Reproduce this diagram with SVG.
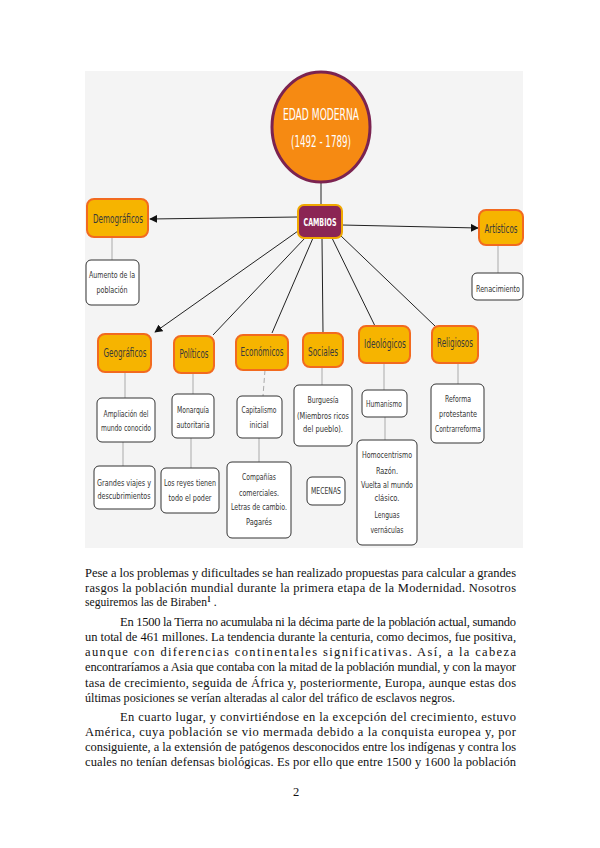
<svg xmlns="http://www.w3.org/2000/svg" width="600" height="848" viewBox="0 0 600 848">
<defs>
<style>
.bg{fill:#f4f4f4}
.hdr{fill:#f6b400;stroke:#f26a1f;stroke-width:2}
.sub{fill:#ffffff;stroke:#333;stroke-width:1}
.ht{font-family:"DejaVu Sans Condensed","Liberation Sans",sans-serif;font-size:12px;fill:#3a3a3a;text-anchor:middle}
.st{font-family:"DejaVu Sans Condensed","Liberation Sans",sans-serif;font-size:9.5px;fill:#333;text-anchor:middle}
.con{stroke:#222;stroke-width:1;fill:none}
.vl{stroke:#aaa;stroke-width:1;fill:none}
.body{font-family:"Liberation Serif","Times New Roman",serif;font-size:12.5px;fill:#111}
</style>
<marker id="ah" viewBox="0 0 10 10" refX="9" refY="5" markerWidth="8" markerHeight="8" markerUnits="userSpaceOnUse" orient="auto">
<path d="M0,0 L10,5 L0,10 z" fill="#111"/>
</marker>
</defs>
<rect x="0" y="0" width="600" height="848" fill="#ffffff"/>
<rect class="bg" x="85" y="71" width="438" height="477"/>

<g id="connectors">
<line class="con" x1="321" y1="182" x2="321" y2="205"/>
<line class="con" x1="298" y1="217" x2="150" y2="219" marker-end="url(#ah)"/>
<line class="con" x1="342" y1="225" x2="478" y2="228" marker-end="url(#ah)"/>
<line class="con" x1="298" y1="231" x2="155" y2="332" marker-end="url(#ah)"/>
<line class="con" x1="305" y1="238" x2="213" y2="335"/>
<line class="con" x1="313" y1="238" x2="272" y2="333"/>
<line class="con" x1="322" y1="238" x2="323" y2="333"/>
<line class="con" x1="332" y1="238" x2="375" y2="326"/>
<line class="con" x1="340" y1="235" x2="435" y2="326"/>
<line class="vl" x1="112" y1="237" x2="112" y2="260"/>
<line class="vl" x1="498" y1="245" x2="498" y2="273"/>
<line class="vl" x1="125" y1="372" x2="125" y2="398"/>
<line class="vl" x1="193" y1="373" x2="193" y2="394"/>
<line class="vl" x1="265" y1="370" x2="263" y2="396" stroke-dasharray="5,3"/>
<line class="vl" x1="322" y1="367" x2="322" y2="385"/>
<line class="vl" x1="384" y1="363" x2="384" y2="390"/>
<line class="vl" x1="458" y1="363" x2="458" y2="384"/>
<line class="vl" x1="123" y1="442" x2="123" y2="466"/>
<line class="vl" x1="191" y1="438" x2="191" y2="468"/>
<line class="vl" x1="259" y1="438" x2="259" y2="462"/>
<line class="vl" x1="385" y1="417" x2="385" y2="440"/>
</g>

<g id="edad">
<ellipse cx="321" cy="127" rx="49" ry="55" fill="#f68a12" stroke="#7b2350" stroke-width="3"/>
<text x="321" y="120" font-family="DejaVu Sans Condensed,Liberation Sans,sans-serif" font-size="15" fill="#ffffff" text-anchor="middle" textLength="76" lengthAdjust="spacingAndGlyphs">EDAD MODERNA</text>
<text x="321" y="147" font-family="DejaVu Sans Condensed,Liberation Sans,sans-serif" font-size="15" fill="#ffffff" text-anchor="middle" textLength="60" lengthAdjust="spacingAndGlyphs">(1492 - 1789)</text>
</g>

<g id="cambios">
<rect x="298" y="205" width="44" height="33" rx="6" fill="#8b2554" stroke="#f0a800" stroke-width="2"/>
<text x="320" y="226" font-family="DejaVu Sans Condensed,Liberation Sans,sans-serif" font-size="10" font-weight="bold" fill="#ffffff" text-anchor="middle" textLength="33" lengthAdjust="spacingAndGlyphs">CAMBIOS</text>
</g>

<g id="demograficos">
<rect class="hdr" x="87" y="199" width="61" height="38" rx="7"/>
<text class="ht" x="118" y="223" textLength="50" lengthAdjust="spacingAndGlyphs">Demográficos</text>
</g>
<g id="artisticos">
<rect class="hdr" x="479" y="210" width="44" height="35" rx="7"/>
<text class="ht" x="501" y="233" textLength="33" lengthAdjust="spacingAndGlyphs">Artísticos</text>
</g>
<g id="aumento">
<rect class="sub" x="86" y="260" width="53" height="45" rx="5"/>
<text class="st" x="112" y="278" textLength="46" lengthAdjust="spacingAndGlyphs">Aumento de la</text>
<text class="st" x="112" y="293" textLength="31" lengthAdjust="spacingAndGlyphs">población</text>
</g>
<g id="renacimiento">
<rect class="sub" x="472" y="273" width="51" height="27" rx="5"/>
<text class="st" x="498" y="292" textLength="44" lengthAdjust="spacingAndGlyphs">Renacimiento</text>
</g>

<g id="geograficos">
<rect class="hdr" x="98" y="334" width="53" height="38" rx="7"/>
<text class="ht" x="125" y="357" textLength="43" lengthAdjust="spacingAndGlyphs">Geográficos</text>
</g>
<g id="politicos">
<rect class="hdr" x="174" y="336" width="40" height="37" rx="7"/>
<text class="ht" x="194" y="358" textLength="29" lengthAdjust="spacingAndGlyphs">Políticos</text>
</g>
<g id="economicos">
<rect class="hdr" x="236" y="335" width="52" height="35" rx="7"/>
<text class="ht" x="262" y="356" textLength="43" lengthAdjust="spacingAndGlyphs">Económicos</text>
</g>
<g id="sociales">
<rect class="hdr" x="303" y="333" width="40" height="34" rx="7"/>
<text class="ht" x="323" y="356" textLength="30" lengthAdjust="spacingAndGlyphs">Sociales</text>
</g>
<g id="ideologicos">
<rect class="hdr" x="359" y="326" width="51" height="37" rx="7"/>
<text class="ht" x="385" y="348" textLength="42" lengthAdjust="spacingAndGlyphs">Ideológicos</text>
</g>
<g id="religiosos">
<rect class="hdr" x="432" y="326" width="46" height="37" rx="7"/>
<text class="ht" x="455" y="347" textLength="36" lengthAdjust="spacingAndGlyphs">Religiosos</text>
</g>

<g id="ampliacion">
<rect class="sub" x="97" y="398" width="58" height="44" rx="5"/>
<text class="st" x="126" y="417" textLength="45" lengthAdjust="spacingAndGlyphs">Ampliación del</text>
<text class="st" x="126" y="431" textLength="50" lengthAdjust="spacingAndGlyphs">mundo conocido</text>
</g>
<g id="monarquia">
<rect class="sub" x="172" y="394" width="42" height="44" rx="5"/>
<text class="st" x="193" y="413" textLength="32" lengthAdjust="spacingAndGlyphs">Monarquía</text>
<text class="st" x="193" y="428" textLength="33" lengthAdjust="spacingAndGlyphs">autoritaria</text>
</g>
<g id="capitalismo">
<rect class="sub" x="237" y="396" width="45" height="42" rx="5"/>
<text class="st" x="259" y="413" textLength="35" lengthAdjust="spacingAndGlyphs">Capitalismo</text>
<text class="st" x="259" y="428" textLength="19" lengthAdjust="spacingAndGlyphs">inicial</text>
</g>
<g id="burguesia">
<rect class="sub" x="294" y="385" width="58" height="61" rx="5"/>
<text class="st" x="323" y="403" textLength="31" lengthAdjust="spacingAndGlyphs">Burguesía</text>
<text class="st" x="323" y="419" textLength="52" lengthAdjust="spacingAndGlyphs">(Miembros ricos</text>
<text class="st" x="323" y="432" textLength="40" lengthAdjust="spacingAndGlyphs">del pueblo).</text>
</g>
<g id="humanismo">
<rect class="sub" x="362" y="390" width="45" height="27" rx="5"/>
<text class="st" x="384" y="407" textLength="36" lengthAdjust="spacingAndGlyphs">Humanismo</text>
</g>
<g id="reforma">
<rect class="sub" x="431" y="384" width="53" height="59" rx="5"/>
<text class="st" x="458" y="402" textLength="26" lengthAdjust="spacingAndGlyphs">Reforma</text>
<text class="st" x="458" y="417" textLength="38" lengthAdjust="spacingAndGlyphs">protestante</text>
<text class="st" x="458" y="432" textLength="46" lengthAdjust="spacingAndGlyphs">Contrarreforma</text>
</g>

<g id="grandes">
<rect class="sub" x="94" y="466" width="61" height="43" rx="5"/>
<text class="st" x="124" y="486" textLength="54" lengthAdjust="spacingAndGlyphs">Grandes viajes y</text>
<text class="st" x="124" y="499" textLength="53" lengthAdjust="spacingAndGlyphs">descubrimientos</text>
</g>
<g id="reyes">
<rect class="sub" x="161" y="468" width="58" height="45" rx="5" stroke-width="1.5"/>
<text class="st" x="190" y="486" textLength="52" lengthAdjust="spacingAndGlyphs">Los reyes tienen</text>
<text class="st" x="190" y="501" textLength="43" lengthAdjust="spacingAndGlyphs">todo el poder</text>
</g>
<g id="companias">
<rect class="sub" x="227" y="462" width="64" height="76" rx="5"/>
<text class="st" x="259" y="480" textLength="34" lengthAdjust="spacingAndGlyphs">Compañías</text>
<text class="st" x="259" y="496" textLength="40" lengthAdjust="spacingAndGlyphs">comerciales.</text>
<text class="st" x="259" y="510" textLength="56" lengthAdjust="spacingAndGlyphs">Letras de cambio.</text>
<text class="st" x="259" y="525" textLength="26" lengthAdjust="spacingAndGlyphs">Pagarés</text>
</g>
<g id="mecenas">
<rect class="sub" x="307" y="477" width="38" height="28" rx="5"/>
<text class="st" x="326" y="494" textLength="30" lengthAdjust="spacingAndGlyphs">MECENAS</text>
</g>
<g id="homocentrismo">
<rect class="sub" x="357" y="440" width="60" height="105" rx="5"/>
<text class="st" x="387" y="458" textLength="50" lengthAdjust="spacingAndGlyphs">Homocentrismo</text>
<text class="st" x="387" y="474" textLength="22" lengthAdjust="spacingAndGlyphs">Razón.</text>
<text class="st" x="387" y="488" textLength="52" lengthAdjust="spacingAndGlyphs">Vuelta al mundo</text>
<text class="st" x="387" y="501" textLength="25" lengthAdjust="spacingAndGlyphs">clásico.</text>
<text class="st" x="387" y="518" textLength="25" lengthAdjust="spacingAndGlyphs">Lenguas</text>
<text class="st" x="387" y="533" textLength="33" lengthAdjust="spacingAndGlyphs">vernáculas</text>
</g>

<g id="texto">
<text class="body" x="85" y="577" textLength="431" lengthAdjust="spacing">Pese a los problemas y dificultades se han realizado propuestas para calcular a grandes</text>
<text class="body" x="85" y="592" textLength="431" lengthAdjust="spacing">rasgos la población mundial durante la primera etapa de la Modernidad. Nosotros</text>
<text class="body" x="85" y="606" style="font-size:11.6px">seguiremos las de Biraben<tspan dy="-4" style="font-size:7.5px;font-weight:bold">1</tspan><tspan dy="4"> .</tspan></text>
<text class="body" x="120" y="626" textLength="396" lengthAdjust="spacing">En 1500 la Tierra no acumulaba ni la décima parte de la población actual, sumando</text>
<text class="body" x="85" y="641" textLength="431" lengthAdjust="spacing">un total de 461 millones. La tendencia durante la centuria, como decimos, fue positiva,</text>
<text class="body" x="85" y="656" textLength="431" lengthAdjust="spacing">aunque con diferencias continentales significativas. Así, a la cabeza</text>
<text class="body" x="85" y="671" textLength="431" lengthAdjust="spacing">encontraríamos a Asia que contaba con la mitad de la población mundial, y con la mayor</text>
<text class="body" x="85" y="687" textLength="431" lengthAdjust="spacing">tasa de crecimiento, seguida de África y, posteriormente, Europa, aunque estas dos</text>
<text class="body" x="85" y="702" textLength="370" lengthAdjust="spacingAndGlyphs">últimas posiciones se verían alteradas al calor del tráfico de esclavos negros.</text>
<text class="body" x="120" y="721" textLength="396" lengthAdjust="spacing">En cuarto lugar, y convirtiéndose en la excepción del crecimiento, estuvo</text>
<text class="body" x="85" y="736" textLength="431" lengthAdjust="spacing">América, cuya población se vio mermada debido a la conquista europea y, por</text>
<text class="body" x="85" y="751" textLength="431" lengthAdjust="spacing">consiguiente, a la extensión de patógenos desconocidos entre los indígenas y contra los</text>
<text class="body" x="85" y="766" textLength="431" lengthAdjust="spacing">cuales no tenían defensas biológicas. Es por ello que entre 1500 y 1600 la población</text>
<text class="body" x="296" y="796" text-anchor="middle">2</text>
</g>
</svg>
